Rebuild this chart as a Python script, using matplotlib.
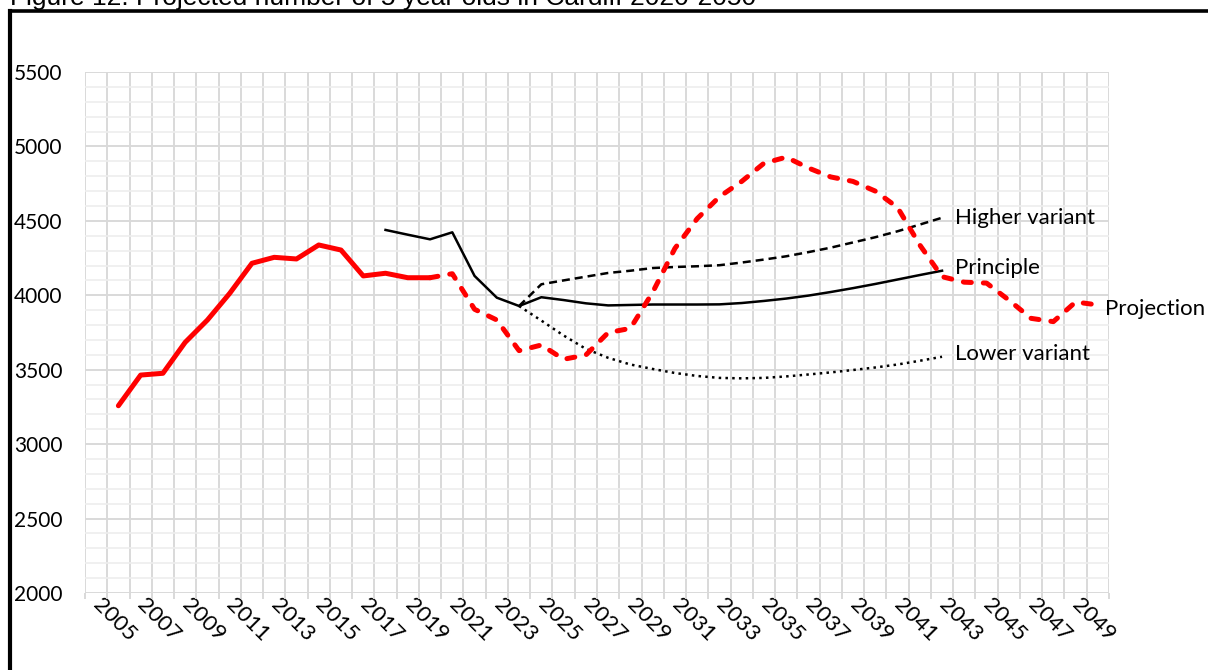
import numpy as np
import matplotlib.pyplot as plt
from matplotlib.lines import Line2D
from matplotlib.ticker import MultipleLocator, FixedLocator

# observed 5 year olds (red solid)
hist_years = list(range(2006, 2021))
hist_vals = [3258, 3464, 3476, 3684, 3834, 4013, 4215, 4255, 4244, 4338,
             4304, 4130, 4148, 4118, 4118]

# own projection (red dashed)
proj_years = list(range(2020, 2051))
proj_vals = [4118, 4145, 3906, 3834, 3628, 3666, 3570, 3599, 3749, 3778,
             4020, 4315, 4515, 4662, 4765, 4887, 4928, 4855, 4795, 4765,
             4700, 4590, 4338, 4125, 4088, 4082, 3968, 3845, 3823, 3955,
             3935]

# principal projection
prin_years = list(range(2018, 2044))
prin_vals = [4439, 4407, 4376, 4423, 4130, 3984, 3928, 3987, 3968, 3946,
             3932, 3935, 3938, 3938, 3938, 3939, 3948, 3962, 3978, 3998,
             4022, 4048, 4076, 4106, 4136, 4165]

# variants
var_years = list(range(2024, 2044))
high_vals = [3928, 4074, 4100, 4125, 4150, 4165, 4183, 4190, 4195, 4202,
             4220, 4240, 4262, 4290, 4320, 4355, 4390, 4430, 4475, 4521]
low_vals = [3928, 3830, 3730, 3640, 3580, 3535, 3505, 3478, 3458, 3445,
            3442, 3445, 3455, 3468, 3482, 3498, 3515, 3535, 3560, 3587]

title = "Figure 12: Projected number of 5 year olds in Cardiff 2020-2050"
lab_font = "Lato"
fs = 16

fig = plt.figure(figsize=(12.08, 6.70), dpi=100)
ax = fig.add_axes([85/1208, 1-593/670, (1109-85)/1208, (593-72)/670])

ax.plot(prin_years, prin_vals, color="black", lw=1.8, zorder=3)
ax.plot(var_years, high_vals, color="black", lw=1.8, dashes=(3.2, 2), zorder=3)
ax.plot(var_years, low_vals, color="black", lw=1.8, dashes=(1, 1.7), zorder=3)
ax.plot(hist_years, hist_vals, color="#ff0000", lw=3.6,
        solid_joinstyle="round", solid_capstyle="round", zorder=4)
ax.plot(proj_years, proj_vals, color="#ff0000", lw=3.6, dashes=(1.6, 2.4),
        dash_capstyle="round", zorder=4)

# end labels
ax.annotate("Higher variant", (var_years[-1], high_vals[-1]), xytext=(9.5, 0),
            textcoords="offset points", va="center", ha="left",
            fontfamily=lab_font, fontsize=fs)
ax.annotate("Principle", (prin_years[-1], prin_vals[-1]), xytext=(9.5, 2),
            textcoords="offset points", va="center", ha="left",
            fontfamily=lab_font, fontsize=fs)
ax.annotate("Lower variant", (var_years[-1], low_vals[-1]), xytext=(9, 2),
            textcoords="offset points", va="center", ha="left",
            fontfamily=lab_font, fontsize=fs)
ax.annotate("Projection", (proj_years[-1], proj_vals[-1]), xytext=(5, -3),
            textcoords="offset points", va="center", ha="left",
            fontfamily=lab_font, fontsize=fs, annotation_clip=False)

ax.set_xlim(2004.5, 2050.5)
ax.set_ylim(2000, 5500)
ax.yaxis.set_major_locator(MultipleLocator(500))
ax.yaxis.set_minor_locator(MultipleLocator(100))
ax.xaxis.set_major_locator(FixedLocator(list(range(2005, 2050, 2))))
ax.xaxis.set_minor_locator(FixedLocator(list(np.arange(2004.5, 2051, 1.0))))

ax.grid(which="minor", axis="x", color="#d9d9d9", lw=1.4)
ax.grid(which="major", axis="y", color="#d9d9d9", lw=1.4)
ax.grid(which="minor", axis="y", color="#eeeeee", lw=1.2)
ax.set_axisbelow(True)
for s in ax.spines.values():
    s.set_visible(False)

ax.tick_params(axis="y", which="both", length=0, pad=16)
ax.tick_params(axis="x", which="major", length=0, pad=6)
ax.tick_params(axis="x", which="minor", length=4.5, color="#d9d9d9", width=1.4)
for t in ax.get_yticklabels():
    t.set_fontfamily(lab_font)
    t.set_fontsize(15)
for t in ax.get_xticklabels():
    t.set_fontfamily(lab_font)
    t.set_fontsize(fs)
    t.set_rotation(-45)
    t.set_rotation_mode("anchor")
    t.set_ha("left")
    t.set_va("center")

# outer frame and cut title
fig.add_artist(Line2D([10/1208, 1.0], [1-11/670]*2, transform=fig.transFigure,
                      color="black", lw=2.6))
fig.add_artist(Line2D([10/1208]*2, [0, 1-11/670], transform=fig.transFigure,
                      color="black", lw=3))
fig.text(10/1208, 1-5/670, title, fontfamily="Liberation Sans", fontsize=19,
         va="baseline", ha="left")

fig.savefig("out.png", dpi=100)
